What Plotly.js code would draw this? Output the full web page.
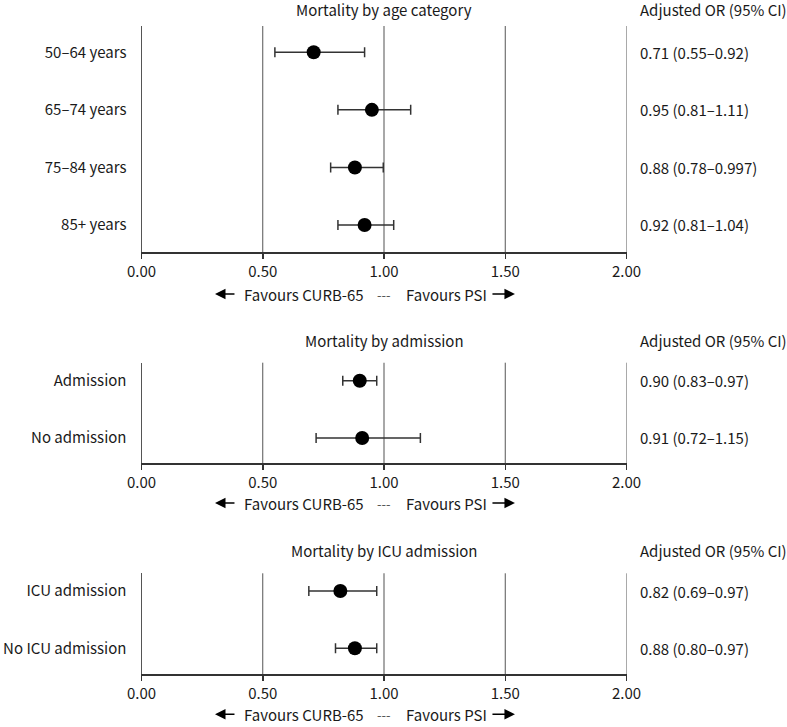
<!DOCTYPE html>
<html>
<head>
<meta charset="utf-8">
<script src="https://cdn.plot.ly/plotly-3.0.1.min.js"></script>
<style>html,body{margin:0;padding:0;background:#fff;}#chart{width:787px;height:727px;}</style>
</head>
<body>
<div id="chart"></div>
<script>
// ---- data ----
const ageLabels = ['50–64 years', '65–74 years', '75–84 years', '85+ years'];
const ageOR = [0.71, 0.95, 0.88, 0.92];
const ageLo = [0.55, 0.81, 0.78, 0.81];
const ageHi = [0.92, 1.11, 0.997, 1.04];

const admLabels = ['Admission', 'No admission'];
const admOR = [0.90, 0.91];
const admLo = [0.83, 0.72];
const admHi = [0.97, 1.15];

const icuLabels = ['ICU admission', 'No ICU admission'];
const icuOR = [0.82, 0.88];
const icuLo = [0.69, 0.80];
const icuHi = [0.97, 0.97];

const panelTitles = ['Mortality by age category', 'Mortality by admission', 'Mortality by ICU admission'];
const colHeader = 'Adjusted OR (95% CI)';
const xTicks = [0, 0.5, 1, 1.5, 2];
const refValue = 1;
const favLeft = 'Favours CURB-65';
const favRight = 'Favours PSI';

// ---- build ----
const W = 787, H = 727;
const FONT = '"Noto Sans CJK SC", "Source Sans Pro", "Noto Sans", sans-serif';
const TXT = '#1a1a1a';
const py = p => 1 - p / H;

function fmt(v) {
  const s = String(v);
  const dec = s.includes('.') ? s.split('.')[1].length : 0;
  return v.toFixed(Math.max(2, dec));
}

const panels = [
  {labels: ageLabels, or: ageOR, lo: ageLo, hi: ageHi, top: 26, bottom: 252, range: [3.469, -0.457], titleY: 9.5, favY: 294},
  {labels: admLabels, or: admOR, lo: admLo, hi: admHi, top: 362.7, bottom: 463.3, range: [1.442, -0.314], titleY: 340, favY: 503},
  {labels: icuLabels, or: icuOR, lo: icuLo, hi: icuHi, top: 573.3, bottom: 674, range: [1.449, -0.309], titleY: 550.7, favY: 714.3}
];

const xDom = [141.5 / W, 626.5 / W];
const data = [];
const annotations = [];
const shapes = [];
const layout = {
  width: W, height: H,
  margin: {l: 0, r: 0, t: 0, b: 0},
  paper_bgcolor: '#fff', plot_bgcolor: '#fff',
  showlegend: false,
  font: {family: FONT, size: 15, color: TXT}
};

panels.forEach((p, i) => {
  const n = i === 0 ? '' : String(i + 1);
  const xa = 'x' + n, ya = 'y' + n;
  const ys = p.labels.map((_, k) => k);
  data.push({
    type: 'scatter', mode: 'markers',
    x: p.or, y: ys, xaxis: xa, yaxis: ya,
    marker: {color: '#000', size: 14},
    error_x: {
      type: 'data', symmetric: false,
      array: p.hi.map((h, k) => h - p.or[k]),
      arrayminus: p.lo.map((l, k) => p.or[k] - l),
      color: '#333', thickness: 1.5, width: 5
    },
    hoverinfo: 'skip'
  });
  layout['xaxis' + n] = {
    domain: xDom, anchor: ya, range: [0, 2],
    tickvals: xTicks, tickformat: '.2f',
    showgrid: false, zeroline: false,
    showline: true, linecolor: '#333', linewidth: 1.5,
    ticks: 'outside', ticklen: 5, tickcolor: '#333', tickwidth: 1.5,
    tickfont: {family: FONT, size: 15, color: TXT}, fixedrange: true
  };
  layout['yaxis' + n] = {
    domain: [py(p.bottom), py(p.top)], anchor: xa,
    range: p.range, tickvals: ys, ticktext: p.labels,
    showgrid: false, zeroline: false,
    showline: true, linecolor: '#555', linewidth: 1,
    ticks: '', ticklabelstandoff: 11,
    tickfont: {family: FONT, size: 15, color: TXT}, fixedrange: true
  };
  // vertical grid lines at tick values; reference line at OR = 1 in light grey
  xTicks.filter(v => v > 0).forEach(v => {
    const isRef = v === refValue;
    shapes.push({type: 'line', xref: xa, yref: ya + ' domain', x0: v, x1: v, y0: 0, y1: 1,
      line: {color: isRef ? '#a8a8a8' : '#555', width: isRef ? 2 : 1}, layer: 'below'});
  });
  // panel title
  annotations.push({xref: xa + ' domain', yref: 'paper', x: 0.5, y: py(p.titleY), xanchor: 'center', yanchor: 'middle',
    text: panelTitles[i], showarrow: false, font: {family: FONT, size: 15, color: TXT}});
  annotations.push({xref: 'paper', yref: 'paper', x: 638 / W, y: py(p.titleY), xanchor: 'left', yanchor: 'middle',
    text: colHeader, showarrow: false, font: {family: FONT, size: 15, color: TXT}});
  // OR text
  p.or.forEach((v, k) => {
    annotations.push({xref: 'paper', yref: ya, x: 638 / W, y: k, xanchor: 'left', yanchor: 'middle',
      text: fmt(v) + ' (' + fmt(p.lo[k]) + '–' + fmt(p.hi[k]) + ')', showarrow: false,
      font: {family: FONT, size: 15, color: TXT}});
  });
  // favours row
  const fy = py(p.favY);
  annotations.push({xref: xa, yref: 'paper', x: 0.926, y: fy, xanchor: 'right', yanchor: 'middle',
    text: favLeft, showarrow: false, font: {family: FONT, size: 15, color: TXT}});
  annotations.push({xref: xa, yref: 'paper', x: 1.082, y: fy, xanchor: 'left', yanchor: 'middle',
    text: favRight, showarrow: false, font: {family: FONT, size: 15, color: TXT}});
  annotations.push({xref: xa, yref: 'paper', x: 1.0, y: fy, xanchor: 'center', yanchor: 'middle',
    text: '---', showarrow: false, font: {family: FONT, size: 13, color: '#555'}});
  annotations.push({xref: xa, yref: 'paper', x: 0.303, y: fy, text: '', showarrow: true,
    ax: 21, ay: 0, arrowhead: 2, arrowsize: 1.4, arrowwidth: 1.5, arrowcolor: '#000', standoff: 0});
  annotations.push({xref: xa, yref: 'paper', x: 1.54, y: fy, text: '', showarrow: true,
    ax: -24, ay: 0, arrowhead: 2, arrowsize: 1.4, arrowwidth: 1.5, arrowcolor: '#000', standoff: 0});
});

layout.annotations = annotations;
layout.shapes = shapes;
Plotly.newPlot('chart', data, layout, {displayModeBar: false, staticPlot: true});
</script>
</body>
</html>
